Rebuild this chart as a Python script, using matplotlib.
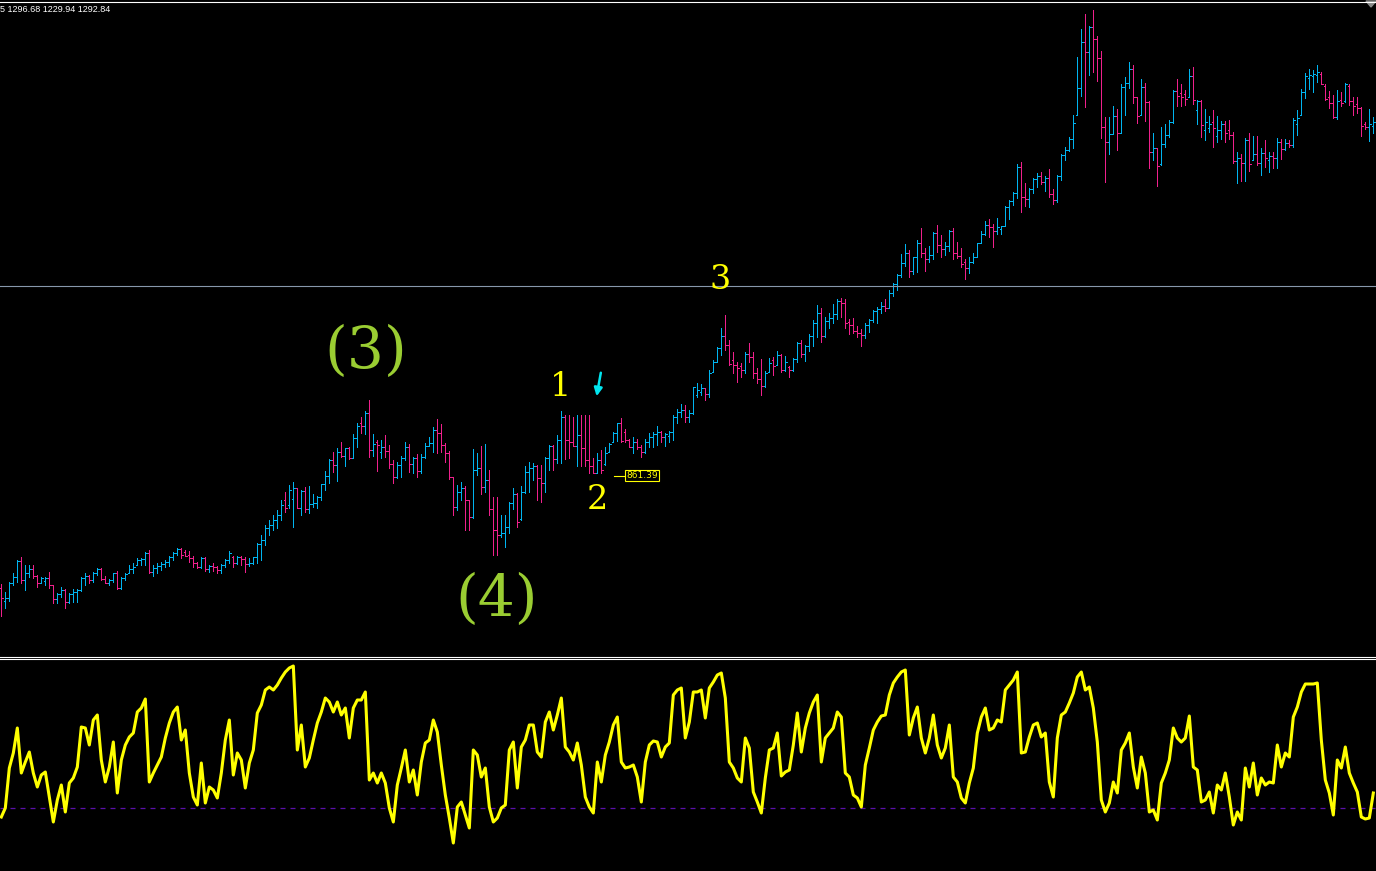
import matplotlib
matplotlib.use('Agg')
import matplotlib.pyplot as plt
from matplotlib.lines import Line2D
from matplotlib.patches import Polygon
import numpy as np

W, H = 1376, 871

UP_COLOR = '#00b4f0'
DOWN_COLOR = '#f0208c'
WAVE_GREEN = '#9acd32'
WAVE_YELLOW = '#ffff00'

# OHLC per bar (344 bars)
bar_high = [
    753, 745, 755, 764, 777, 780, 772, 772, 772, 762,
    760, 760, 765, 752, 744, 750, 748, 744, 748, 748,
    760, 764, 762, 765, 769, 769, 761, 758, 764, 766,
    760, 764, 772, 774, 779, 779, 785, 787, 772, 774,
    775, 777, 781, 785, 789, 789, 787, 786, 781, 775,
    780, 780, 772, 774, 771, 773, 778, 786, 781, 781,
    781, 780, 779, 780, 794, 802, 812, 817, 822, 827,
    837, 845, 852, 855, 849, 847, 850, 851, 843, 841,
    853, 866, 878, 885, 889, 895, 889, 890, 903, 914,
    920, 926, 937, 903, 897, 897, 902, 892, 877, 875,
    881, 895, 893, 880, 883, 883, 894, 900, 910, 918,
    913, 894, 886, 860, 852, 855, 851, 837, 888, 884,
    891, 893, 867, 840, 840, 822, 822, 835, 849, 844,
    851, 871, 875, 874, 872, 872, 880, 892, 892, 902,
    926, 922, 922, 920, 922, 922, 922, 922, 879, 884,
    887, 890, 894, 905, 914, 919, 908, 898, 900, 898,
    892, 898, 904, 905, 911, 906, 904, 906, 922, 928,
    933, 932, 927, 950, 954, 953, 949, 967, 977, 990,
    1009, 1022, 997, 985, 975, 974, 985, 994, 985, 969,
    978, 966, 979, 980, 986, 983, 981, 971, 979, 995,
    997, 992, 1003, 1017, 1032, 1029, 1020, 1024, 1033, 1038,
    1039, 1038, 1018, 1019, 1011, 1008, 1014, 1018, 1027, 1030,
    1035, 1038, 1047, 1054, 1063, 1083, 1093, 1087, 1080, 1097,
    1109, 1089, 1091, 1105, 1112, 1102, 1095, 1107, 1109, 1095,
    1089, 1078, 1080, 1084, 1094, 1106, 1116, 1118, 1113, 1119,
    1111, 1131, 1137, 1145, 1173, 1175, 1154, 1149, 1159, 1164,
    1165, 1161, 1168, 1148, 1162, 1183, 1190, 1200, 1222, 1280,
    1308, 1323, 1311, 1327, 1301, 1286, 1220, 1220, 1231, 1228,
    1253, 1260, 1275, 1272, 1240, 1258, 1254, 1236, 1204, 1189,
    1210, 1213, 1217, 1247, 1258, 1253, 1247, 1268, 1270, 1237,
    1237, 1228, 1221, 1227, 1221, 1216, 1216, 1217, 1205, 1185,
    1183, 1199, 1204, 1201, 1201, 1189, 1197, 1185, 1185, 1199,
    1198, 1198, 1197, 1219, 1227, 1248, 1264, 1268, 1267, 1272,
    1265, 1253, 1246, 1242, 1247, 1245, 1254, 1253, 1240, 1240,
    1230, 1215, 1228, 1220,
]
bar_low = [
    721, 729, 736, 752, 755, 754, 747, 760, 759, 750,
    754, 752, 749, 734, 734, 740, 729, 734, 735, 735,
    746, 752, 754, 755, 762, 757, 754, 752, 755, 748,
    748, 757, 764, 764, 772, 772, 772, 764, 761, 764,
    767, 770, 771, 777, 782, 779, 781, 775, 770, 769,
    769, 766, 765, 766, 764, 764, 770, 774, 770, 773,
    772, 765, 771, 773, 774, 777, 792, 802, 807, 809,
    817, 825, 829, 810, 829, 822, 825, 824, 830, 829,
    837, 847, 854, 865, 856, 880, 871, 878, 879, 890,
    904, 903, 880, 881, 866, 879, 880, 869, 854, 859,
    860, 877, 865, 864, 860, 864, 879, 891, 885, 884,
    885, 875, 858, 822, 827, 837, 807, 807, 819, 862,
    843, 845, 822, 782, 782, 800, 790, 804, 828, 810,
    817, 844, 845, 857, 837, 835, 845, 867, 867, 874,
    874, 878, 879, 891, 871, 871, 871, 864, 864, 864,
    864, 872, 885, 895, 896, 895, 895, 890, 884, 888,
    880, 884, 890, 890, 892, 895, 891, 895, 897, 914,
    920, 915, 915, 923, 940, 942, 937, 940, 965, 975,
    982, 987, 972, 964, 955, 960, 964, 975, 959, 954,
    942, 950, 965, 962, 972, 965, 966, 960, 966, 975,
    980, 976, 986, 991, 1000, 995, 1000, 1009, 1014, 1018,
    1020, 1009, 1003, 1004, 1000, 991, 999, 1005, 1015, 1014,
    1024, 1026, 1029, 1041, 1047, 1060, 1071, 1060, 1063, 1065,
    1080, 1066, 1075, 1078, 1085, 1080, 1082, 1086, 1078, 1079,
    1070, 1058, 1064, 1074, 1080, 1094, 1102, 1100, 1090, 1103,
    1103, 1111, 1118, 1132, 1139, 1125, 1131, 1130, 1144, 1150,
    1153, 1146, 1140, 1133, 1135, 1157, 1177, 1186, 1189, 1222,
    1241, 1230, 1262, 1265, 1256, 1199, 1155, 1183, 1203, 1187,
    1204, 1222, 1249, 1234, 1214, 1222, 1216, 1169, 1177, 1151,
    1172, 1190, 1200, 1214, 1231, 1231, 1232, 1240, 1233, 1213,
    1200, 1197, 1205, 1190, 1195, 1198, 1195, 1198, 1174, 1154,
    1156, 1156, 1166, 1177, 1172, 1162, 1170, 1165, 1169, 1169,
    1178, 1187, 1190, 1190, 1202, 1222, 1239, 1248, 1245, 1255,
    1253, 1237, 1229, 1219, 1218, 1231, 1235, 1232, 1222, 1224,
    1201, 1208, 1196, 1204,
]
bar_open = [
    749, 736, 739, 754, 760, 776, 757, 764, 768, 761,
    754, 756, 759, 752, 738, 743, 747, 735, 743, 745,
    747, 759, 761, 757, 764, 768, 758, 754, 757, 764,
    749, 759, 764, 768, 772, 777, 778, 784, 765, 769,
    771, 773, 775, 780, 784, 788, 785, 782, 779, 774,
    770, 779, 768, 771, 770, 767, 772, 777, 780, 774,
    780, 778, 773, 774, 780, 793, 797, 809, 812, 817,
    822, 837, 832, 838, 849, 829, 846, 828, 833, 834,
    840, 853, 861, 877, 872, 885, 881, 889, 879, 899,
    914, 911, 924, 887, 895, 885, 890, 886, 873, 860,
    872, 879, 890, 873, 879, 866, 880, 891, 894, 907,
    904, 892, 884, 860, 830, 845, 849, 837, 820, 867,
    869, 850, 857, 828, 807, 802, 804, 810, 834, 843,
    818, 845, 865, 869, 871, 859, 854, 879, 891, 878,
    897, 920, 897, 895, 891, 902, 889, 877, 871, 864,
    877, 873, 885, 895, 904, 914, 905, 897, 890, 895,
    890, 885, 895, 900, 903, 905, 900, 901, 905, 920,
    925, 927, 920, 924, 942, 945, 949, 943, 965, 975,
    989, 1001, 992, 977, 972, 971, 967, 983, 980, 964,
    958, 951, 965, 977, 972, 982, 967, 970, 967, 978,
    994, 983, 991, 1001, 1014, 1024, 1001, 1016, 1019, 1023,
    1036, 1034, 1015, 1012, 1006, 1004, 1002, 1012, 1017, 1026,
    1028, 1031, 1029, 1044, 1053, 1062, 1074, 1084, 1066, 1080,
    1094, 1084, 1078, 1082, 1104, 1092, 1088, 1091, 1106, 1084,
    1081, 1075, 1069, 1075, 1080, 1094, 1103, 1112, 1110, 1106,
    1108, 1111, 1130, 1136, 1144, 1170, 1140, 1138, 1148, 1158,
    1161, 1155, 1159, 1143, 1137, 1161, 1182, 1187, 1198, 1222,
    1249, 1295, 1285, 1310, 1298, 1279, 1210, 1195, 1203, 1221,
    1204, 1250, 1254, 1268, 1240, 1222, 1250, 1235, 1185, 1189,
    1173, 1193, 1202, 1215, 1246, 1244, 1243, 1240, 1261, 1227,
    1236, 1207, 1209, 1215, 1201, 1207, 1213, 1207, 1202, 1176,
    1179, 1174, 1197, 1177, 1183, 1174, 1184, 1177, 1181, 1179,
    1195, 1188, 1194, 1192, 1213, 1222, 1245, 1259, 1261, 1262,
    1263, 1251, 1240, 1234, 1220, 1237, 1236, 1251, 1236, 1233,
    1229, 1213, 1210, 1211,
]
bar_close = [
    739, 739, 754, 760, 776, 757, 764, 768, 761, 754,
    759, 759, 752, 738, 743, 747, 735, 743, 745, 747,
    759, 761, 757, 764, 768, 758, 754, 757, 764, 749,
    759, 763, 768, 770, 777, 778, 784, 765, 769, 771,
    773, 775, 780, 784, 788, 782, 781, 779, 774, 770,
    779, 768, 771, 770, 767, 772, 777, 784, 774, 780,
    778, 773, 774, 780, 793, 797, 809, 812, 817, 822,
    832, 829, 847, 849, 829, 846, 828, 833, 834, 840,
    853, 861, 877, 872, 885, 881, 889, 879, 899, 911,
    911, 924, 887, 893, 892, 890, 886, 873, 860, 872,
    879, 890, 873, 879, 866, 880, 891, 894, 907, 904,
    892, 884, 860, 830, 845, 849, 837, 820, 867, 869,
    850, 857, 828, 807, 802, 804, 810, 834, 843, 815,
    845, 865, 869, 871, 859, 854, 879, 891, 878, 897,
    920, 897, 895, 891, 902, 889, 877, 871, 864, 877,
    867, 884, 893, 904, 914, 896, 897, 890, 895, 890,
    885, 895, 900, 903, 905, 900, 903, 905, 920, 925,
    927, 920, 924, 950, 947, 949, 943, 964, 975, 989,
    1001, 992, 973, 972, 969, 967, 983, 980, 964, 958,
    951, 964, 974, 971, 982, 967, 975, 967, 978, 994,
    983, 991, 1001, 1014, 1024, 1001, 1016, 1019, 1023, 1036,
    1034, 1014, 1012, 1006, 1004, 1002, 1012, 1017, 1026, 1028,
    1031, 1029, 1044, 1053, 1062, 1074, 1084, 1066, 1080, 1094,
    1084, 1078, 1082, 1104, 1092, 1088, 1091, 1106, 1084, 1081,
    1073, 1069, 1075, 1080, 1094, 1103, 1112, 1110, 1106, 1110,
    1111, 1130, 1136, 1144, 1170, 1140, 1138, 1148, 1158, 1161,
    1155, 1159, 1143, 1137, 1161, 1182, 1187, 1198, 1214, 1249,
    1295, 1285, 1310, 1298, 1279, 1210, 1195, 1203, 1221, 1204,
    1250, 1254, 1268, 1240, 1221, 1250, 1235, 1185, 1189, 1171,
    1193, 1202, 1215, 1246, 1241, 1240, 1238, 1261, 1237, 1236,
    1212, 1215, 1213, 1209, 1207, 1213, 1204, 1202, 1176, 1179,
    1174, 1197, 1173, 1183, 1174, 1184, 1179, 1181, 1179, 1195,
    1188, 1194, 1192, 1217, 1219, 1245, 1261, 1262, 1263, 1265,
    1253, 1238, 1234, 1220, 1236, 1234, 1253, 1236, 1231, 1229,
    1211, 1210, 1213, 1215,
]

# oscillator in the lower window, zero = dashed level
osc_values = [
    -9, 0, 40, 55, 80, 35, 46, 56, 35, 21,
    33, 36, 11, -14, 8, 23, -4, 25, 30, 41,
    81, 80, 63, 88, 93, 48, 26, 41, 66, 15,
    48, 63, 71, 75, 96, 100, 109, 26, 35, 43,
    51, 70, 85, 96, 101, 68, 78, 35, 11, 3,
    45, 5, 21, 18, 10, 35, 68, 88, 33, 55,
    48, 20, 45, 58, 95, 103, 118, 121, 118, 123,
    130, 136, 140, 142, 58, 83, 41, 50, 68, 85,
    96, 110, 106, 96, 106, 93, 100, 70, 100, 108,
    108, 116, 28, 35, 25, 35, 25, 0, -14, 23,
    40, 58, 26, 38, 13, 46, 65, 68, 88, 76,
    43, 13, -10, -35, 1, 6, -7, -20, 58, 53,
    31, 40, 1, -14, -10, 0, 3, 58, 66, 20,
    61, 68, 83, 83, 56, 51, 86, 96, 78, 93,
    110, 61, 56, 48, 65, 43, 11, 1, -5, 46,
    26, 53, 66, 83, 91, 46, 40, 41, 43, 31,
    6, 46, 63, 67, 66, 51, 61, 65, 113, 118,
    120, 70, 86, 116, 116, 118, 90, 120, 126, 133,
    135, 110, 46, 40, 30, 26, 70, 60, 16, 6,
    -5, 30, 58, 60, 75, 32, 36, 38, 63, 95,
    56, 80, 95, 106, 113, 46, 70, 75, 80, 96,
    91, 35, 31, 13, 10, 1, 43, 60, 78, 86,
    92, 93, 113, 125, 131, 136, 138, 73, 90, 101,
    70, 55, 70, 93, 63, 50, 60, 83, 31, 26,
    10, 5, 25, 40, 75, 91, 100, 78, 80, 88,
    86, 118, 123, 128, 136, 55, 56, 71, 83, 85,
    71, 75, 26, 11, 70, 93, 96, 105, 115, 131,
    136, 118, 121, 100, 66, 8, -4, 5, 26, 15,
    58, 65, 75, 41, 20, 51, 35, -4, -2, -12,
    25, 35, 48, 80, 70, 66, 70, 92, 41, 38,
    6, 8, 16, -5, 23, 18, 35, 11, -17, -4,
    -12, 40, 21, 45, 13, 30, 23, 26, 25, 63,
    41, 55, 51, 91, 101, 116, 124, 124, 124, 125,
    68, 28, 15, -7, 48, 40, 61, 35, 25, 16,
    -9, -11, -10, 15,
]

HLINE_PRICE = 1051
LABEL_PRICE = 861.39
HEADER = '5 1296.68 1229.94 1292.84'

assert len(bar_high) == len(bar_low) == len(bar_open) == len(bar_close) == len(osc_values)

o = np.array(bar_open)
h = np.array(bar_high)
l = np.array(bar_low)
c = np.array(bar_close)
idx = np.arange(len(c))
colors = np.where(c >= o, UP_COLOR, DOWN_COLOR)

fig = plt.figure(figsize=(W / 100, H / 100), dpi=100, facecolor='black')


def px_box(top, bottom):
    return [0, 1 - bottom / H, 1, (bottom - top) / H]


ax = fig.add_axes(px_box(3, 655))
ax_osc = fig.add_axes(px_box(660, 871))
for a in (ax, ax_osc):
    a.set_facecolor('black')
    a.set_xticks([])
    a.set_yticks([])
    for s in a.spines.values():
        s.set_visible(False)
    a.set_xlim(-0.33, len(c) - 0.33)

ax.set_ylim(682, 1334)
ax_osc.set_ylim(-63, 148)

# bars: high-low line, open tick left, close tick right (1 px wide, no smoothing)
ax.vlines(idx, l, h, colors=colors, linewidth=0.5, antialiased=False)
ax.hlines(o, idx - 0.45, idx, colors=colors, linewidth=0.5, antialiased=False)
ax.hlines(c, idx, idx + 0.45, colors=colors, linewidth=0.5, antialiased=False)

ax.axhline(HLINE_PRICE, color='#8797ab', linewidth=0.8)

# wave labels
ax.text(91.2, 985, '(3)', color=WAVE_GREEN, fontsize=42, family='DejaVu Serif',
        ha='center', va='center')
ax.text(123.9, 737, '(4)', color=WAVE_GREEN, fontsize=42, family='DejaVu Serif',
        ha='center', va='center')
ax.text(139.9, 950, '1', color=WAVE_YELLOW, fontsize=24, family='DejaVu Serif',
        ha='center', va='center')
ax.text(148.9, 837, '2', color=WAVE_YELLOW, fontsize=24, family='DejaVu Serif',
        ha='center', va='center')
ax.text(179.7, 1057, '3', color=WAVE_YELLOW, fontsize=24, family='DejaVu Serif',
        ha='center', va='center')

ax.annotate('', xy=(148.7, 938), xytext=(150.0, 967),
            arrowprops=dict(arrowstyle='-|>', color='#00e5ee', lw=1.8, mutation_scale=12))

# price label
ax.plot([153.2, 155.8], [LABEL_PRICE, LABEL_PRICE], color=WAVE_YELLOW, linewidth=0.8)
ax.text(156.3, LABEL_PRICE, f'{LABEL_PRICE:.2f}', color=WAVE_YELLOW, fontsize=6.5,
        family='DejaVu Sans', ha='left', va='center',
        bbox=dict(boxstyle='square,pad=0.12', fc='black', ec=WAVE_YELLOW, lw=0.8))

# oscillator
ax_osc.axhline(0, color='#5a10a8', linewidth=0.9, linestyle=(0, (4, 4)))
ax_osc.plot(idx, osc_values, color='#ffff00', linewidth=2.2)

# frame lines and header
for ypx in (2.5, 656.5, 659):
    fig.add_artist(Line2D([0, 1], [1 - ypx / H] * 2, transform=fig.transFigure,
                          color='white', linewidth=0.8))
fig.add_artist(Polygon([[1366 / W, 1 - 1 / H], [1376 / W, 1 - 1 / H], [1371 / W, 1 - 7 / H]],
                       closed=True, transform=fig.transFigure, color='#8a8a8a'))
fig.text(0, 1 - 10 / H, HEADER, color='white', fontsize=6.5, family='Liberation Sans',
         ha='left', va='center')

fig.savefig('out.png', dpi=100, facecolor='black')
